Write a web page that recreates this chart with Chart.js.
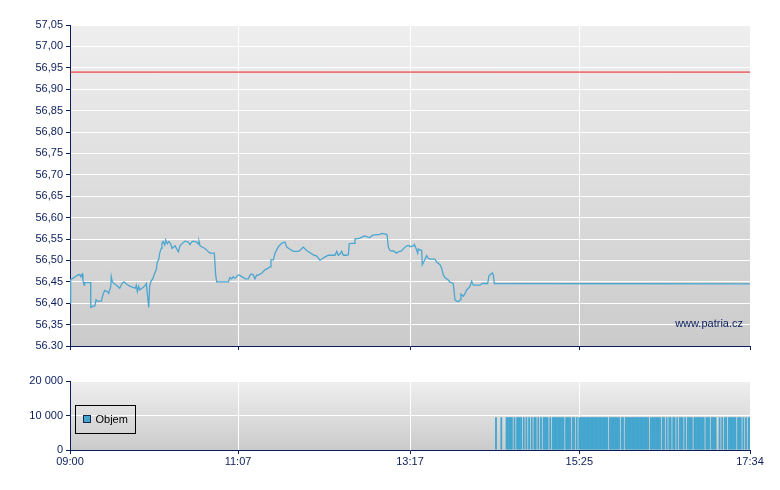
<!DOCTYPE html>
<html>
<head>
<meta charset="utf-8">
<script src="https://cdn.jsdelivr.net/npm/chart.js@4.4.1/dist/chart.umd.min.js"></script>
<style>
  html, body { margin: 0; padding: 0; background: #ffffff; }
  #wrap { position: relative; width: 780px; height: 490px; }
  #priceCanvas { position: absolute; left: 0; top: 0; }
  #volCanvas { position: absolute; left: 0; top: 360px; }
</style>
</head>
<body>
<div id="wrap">
  <canvas id="priceCanvas" width="780" height="360"></canvas>
  <canvas id="volCanvas" width="780" height="130"></canvas>
</div>
<script>
// ---------- DATA ----------
// time axis: minutes after 09:00
const timeTickValues = [0, 127, 257, 385, 514];
const timeTickLabels = ['09:00', '11:07', '13:17', '15:25', '17:34'];

const priceTickValues = [56.30, 56.35, 56.40, 56.45, 56.50, 56.55, 56.60, 56.65, 56.70, 56.75, 56.80, 56.85, 56.90, 56.95, 57.00, 57.05];
const priceTickLabels = ['56.30', '56,35', '56,40', '56,45', '56,50', '56,55', '56,60', '56,65', '56,70', '56,75', '56,80', '56,85', '56,90', '56,95', '57,00', '57,05'];

const volumeTickValues = [0, 10000, 20000];
const volumeTickLabels = ['0', '10 000', '20 000'];

const previousClose = 56.94;

const priceTimes = [
  0, 0.5, 6.0, 7.3, 8.1, 9.1, 9.8, 10.6, 11.1, 15.6, 15.7, 17.4, 18.7, 19.7, 20.6, 23.7, 24.9, 26.2, 28.2, 29.3,
  30.8, 31.2, 32.0, 33.3, 35.0, 37.6, 39.3, 40.8, 42.6, 45.1, 47.6, 49.4, 50.1, 50.9, 51.9, 52.7, 54.4, 56.5, 57.7, 59.5,
  60.2, 61.0, 62.7, 64.0, 65.2, 66.0, 67.0, 67.8, 69.0, 69.5, 70.3, 71.6, 72.3, 73.5, 74.8, 76.1, 77.1, 78.6, 79.4, 81.9,
  83.1, 84.4, 86.9, 89.4, 90.7, 92.0, 93.2, 95.8, 97.0, 97.5, 98.3, 99.5, 102.0, 103.3, 104.6, 105.8, 109.1, 110.1, 110.9, 119.7,
  120.9, 122.2, 123.4, 124.7, 126.0, 127.2, 128.5, 129.8, 131.0, 132.3, 134.8, 136.1, 137.3, 138.5, 139.8, 141.1, 142.3, 143.6, 144.9, 147.4,
  149.9, 151.2, 151.9, 153.7, 155.0, 156.2, 157.5, 160.0, 162.5, 163.8, 166.3, 168.8, 172.6, 173.8, 176.3, 178.9, 181.4, 183.9, 186.5, 188.4,
  189.0, 191.5, 195.2, 200.3, 201.6, 202.8, 204.1, 205.4, 206.6, 209.1, 210.4, 211.1, 212.9, 214.7, 215.4, 219.2, 221.7, 223.0, 225.5, 226.8,
  228.8, 234.3, 235.6, 239.4, 239.8, 240.6, 241.9, 243.1, 244.4, 246.9, 248.1, 250.7, 251.9, 254.5, 256.2, 257.0, 259.5, 260.3, 261.3, 262.0,
  262.8, 263.3, 264.6, 265.8, 266.3, 267.8, 269.6, 270.8, 272.1, 275.9, 277.2, 279.7, 280.9, 282.2, 283.4, 285.9, 287.2, 289.7, 291.0, 292.3,
  294.0, 294.8, 295.5, 297.3, 298.6, 299.8, 301.1, 302.3, 303.6, 304.8, 309.9, 311.6, 315.7, 316.7, 318.2, 319.2, 320.0, 320.7, 514
];
const priceValues = [
  56.400, 56.455, 56.466, 56.467, 56.462, 56.468, 56.454, 56.442, 56.448, 56.448, 56.390, 56.393, 56.393, 56.408, 56.405, 56.405, 56.420, 56.430, 56.427, 56.423,
  56.439, 56.462, 56.450, 56.446, 56.442, 56.435, 56.446, 56.450, 56.445, 56.440, 56.437, 56.435, 56.442, 56.427, 56.439, 56.431, 56.435, 56.440, 56.446, 56.390,
  56.439, 56.450, 56.458, 56.470, 56.478, 56.497, 56.501, 56.517, 56.528, 56.540, 56.544, 56.536, 56.548, 56.539, 56.544, 56.539, 56.528, 56.532, 56.534, 56.520,
  56.534, 56.538, 56.545, 56.543, 56.537, 56.543, 56.545, 56.543, 56.538, 56.545, 56.534, 56.532, 56.528, 56.524, 56.520, 56.517, 56.517, 56.466, 56.450, 56.450,
  56.460, 56.457, 56.462, 56.458, 56.462, 56.466, 56.465, 56.462, 56.460, 56.457, 56.457, 56.466, 56.468, 56.466, 56.457, 56.466, 56.465, 56.468, 56.470, 56.478,
  56.482, 56.485, 56.501, 56.501, 56.517, 56.524, 56.532, 56.540, 56.543, 56.531, 56.526, 56.521, 56.521, 56.523, 56.531, 56.523, 56.518, 56.513, 56.510, 56.503,
  56.500, 56.506, 56.512, 56.512, 56.521, 56.512, 56.515, 56.521, 56.512, 56.512, 56.513, 56.539, 56.540, 56.540, 56.550, 56.552, 56.556, 56.557, 56.554, 56.554,
  56.559, 56.561, 56.563, 56.561, 56.557, 56.531, 56.523, 56.522, 56.522, 56.517, 56.520, 56.522, 56.527, 56.534, 56.535, 56.532, 56.534, 56.537, 56.530, 56.524,
  56.517, 56.527, 56.524, 56.524, 56.490, 56.499, 56.511, 56.505, 56.503, 56.503, 56.496, 56.490, 56.482, 56.466, 56.460, 56.454, 56.449, 56.446, 56.408, 56.405,
  56.404, 56.408, 56.421, 56.416, 56.423, 56.431, 56.435, 56.439, 56.451, 56.442, 56.442, 56.446, 56.446, 56.464, 56.468, 56.471, 56.466, 56.446, 56.445
];

// volume per minute (minutes after 09:00)
const volumeMinutes = [
  322, 326, 330, 331, 332, 333, 334, 336, 338, 339, 340, 341, 343, 345, 347, 349, 351, 352, 354, 356,
  358, 359, 360, 361, 363, 365, 366, 367, 368, 369, 370, 371, 372, 373, 375, 376, 377, 378, 380, 381,
  383, 385, 386, 387, 388, 389, 390, 391, 392, 393, 394, 395, 396, 397, 398, 399, 400, 401, 402, 403,
  404, 405, 406, 408, 409, 410, 411, 412, 413, 414, 415, 417, 418, 420, 421, 422, 423, 424, 425, 426,
  427, 428, 429, 430, 431, 432, 433, 434, 435, 436, 437, 439, 440, 441, 442, 443, 444, 445, 446, 448,
  449, 451, 453, 454, 456, 457, 459, 461, 462, 463, 465, 467, 468, 469, 470, 472, 473, 474, 475, 476,
  477, 478, 479, 481, 482, 483, 485, 486, 487, 488, 491, 493, 495, 496, 498, 499, 500, 501, 502, 503,
  505, 506, 507, 509, 511, 513, 514
];
const volumeValues = [
  9500, 9500, 9500, 9500, 9500, 9500, 9500, 9500, 9500, 9500, 9500, 9500, 9500, 9500, 9500, 9500, 9500, 9500, 9500, 9500,
  9500, 9500, 9500, 9500, 9500, 9500, 9500, 9500, 9500, 9500, 9500, 9500, 9500, 9500, 9500, 9500, 9500, 9500, 9500, 9500,
  9500, 9500, 9500, 9500, 9500, 9500, 9500, 9500, 9500, 9500, 9500, 9500, 9500, 9500, 9500, 9500, 9500, 9500, 9500, 9500,
  9500, 9500, 9500, 9500, 9500, 9500, 9500, 9500, 9500, 9500, 9500, 9500, 9500, 9500, 9500, 9500, 9500, 9500, 9500, 9500,
  9500, 9500, 9500, 9500, 9500, 9500, 9500, 9500, 9500, 9500, 9500, 9500, 9500, 9500, 9500, 9500, 9500, 9500, 9500, 9500,
  9500, 9500, 9500, 9500, 9500, 9500, 9500, 9500, 9500, 9500, 9500, 9500, 9500, 9500, 9500, 9500, 9500, 9500, 9500, 9500,
  9500, 9500, 9500, 9500, 9500, 9500, 9500, 9500, 9500, 9500, 9500, 9500, 9500, 9500, 9500, 9500, 9500, 9500, 9500, 9500,
  9500, 9500, 9500, 9500, 9500, 9500, 9500
];

// ---------- STYLE ----------
const NAVY = '#0b1e5b';
const FONT = { family: "'Liberation Sans', Arial, sans-serif", size: 11 };

const priceData = priceTimes.map((t, i) => ({ x: t, y: priceValues[i] }));
const prevCloseData = [{ x: timeTickValues[0], y: previousClose }, { x: timeTickValues[timeTickValues.length - 1], y: previousClose }];
const volumeData = volumeMinutes.map((m, i) => ({ x: m, y: volumeValues[i] }));

const bgPlugin = {
  id: 'areaBg',
  beforeDraw(chart) {
    const { ctx, chartArea: a } = chart;
    const g = ctx.createLinearGradient(0, a.top, 0, a.bottom);
    g.addColorStop(0, '#efefef');
    g.addColorStop(1, '#cbcbcb');
    ctx.save();
    ctx.fillStyle = g;
    ctx.fillRect(a.left, a.top, a.right - a.left, a.bottom - a.top);
    ctx.restore();
  }
};

const watermarkPlugin = {
  id: 'watermark',
  afterDatasetsDraw(chart) {
    const { ctx, chartArea: a } = chart;
    ctx.save();
    ctx.font = "11px 'Liberation Sans', Arial, sans-serif";
    ctx.fillStyle = NAVY;
    ctx.textAlign = 'right';
    ctx.textBaseline = 'alphabetic';
    ctx.fillText('www.patria.cz', a.right - 7, a.bottom - 19);
    ctx.restore();
  }
};

const legendPlugin = {
  id: 'boxLegend',
  afterDraw(chart) {
    const { ctx, chartArea: a } = chart;
    const ds = chart.data.datasets[0];
    const x0 = a.left + 5.5, y0 = a.top + 24.5, w = 60, h = 28;
    ctx.save();
    ctx.strokeStyle = '#000000';
    ctx.lineWidth = 1;
    ctx.strokeRect(x0, y0, w, h);
    ctx.fillStyle = ds.backgroundColor;
    ctx.fillRect(x0 + 8, y0 + 10, 7, 7);
    ctx.strokeStyle = '#1a2a4a';
    ctx.strokeRect(x0 + 8, y0 + 10, 7, 7);
    ctx.fillStyle = '#000000';
    ctx.font = "11px 'Liberation Sans', Arial, sans-serif";
    ctx.textBaseline = 'middle';
    ctx.textAlign = 'left';
    ctx.fillText(ds.label, x0 + 20, y0 + 14.5);
    ctx.restore();
  }
};

function timeAxis(showLabels, height) {
  return {
    type: 'linear',
    offset: false,
    min: timeTickValues[0],
    max: timeTickValues[timeTickValues.length - 1],
    afterBuildTicks(scale) { scale.ticks = timeTickValues.map(v => ({ value: v })); },
    afterFit(scale) { scale.height = height; },
    grid: { offset: false, color: '#ffffff', lineWidth: 1, drawTicks: true, tickLength: 4, tickColor: NAVY },
    border: { display: true, color: NAVY, width: 1 },
    ticks: {
      display: showLabels,
      color: NAVY,
      font: FONT,
      padding: 1,
      maxRotation: 0,
      autoSkip: false,
      callback(v) { const i = timeTickValues.indexOf(v); return i >= 0 ? timeTickLabels[i] : ''; }
    }
  };
}

function valueAxis(vals, labels) {
  return {
    type: 'linear',
    min: vals[0],
    max: vals[vals.length - 1],
    afterBuildTicks(scale) { scale.ticks = vals.map(v => ({ value: v })); },
    afterFit(scale) { scale.width = 70; },
    grid: { color: '#ffffff', lineWidth: 1, drawTicks: true, tickLength: 4, tickColor: NAVY },
    border: { display: true, color: NAVY, width: 1 },
    ticks: {
      color: NAVY,
      font: FONT,
      padding: 3,
      autoSkip: false,
      callback(v) {
        let best = 0;
        vals.forEach((t, i) => { if (Math.abs(t - v) < Math.abs(vals[best] - v)) best = i; });
        return labels[best];
      }
    }
  };
}

new Chart(document.getElementById('priceCanvas'), {
  type: 'line',
  data: {
    datasets: [
      {
        label: 'Kurz',
        data: priceData,
        borderColor: '#4ba6d1',
        borderWidth: 1.3,
        pointRadius: 0,
        tension: 0,
        fill: false
      },
      {
        label: 'Předchozí závěr',
        data: prevCloseData,
        borderColor: '#ee1c1c',
        borderWidth: 1,
        pointRadius: 0,
        fill: false
      }
    ]
  },
  options: {
    responsive: false,
    animation: false,
    devicePixelRatio: 1,
    layout: { padding: { top: 25, right: 30, bottom: 0, left: 0 } },
    plugins: { legend: { display: false }, tooltip: { enabled: false } },
    scales: {
      x: timeAxis(false, 14),
      y: valueAxis(priceTickValues, priceTickLabels)
    }
  },
  plugins: [bgPlugin, watermarkPlugin]
});

new Chart(document.getElementById('volCanvas'), {
  type: 'bar',
  data: {
    datasets: [
      {
        label: 'Objem',
        data: volumeData,
        backgroundColor: '#44a6cf',
        borderWidth: 0,
        barPercentage: 1.4,
        categoryPercentage: 1
      }
    ]
  },
  options: {
    responsive: false,
    animation: false,
    devicePixelRatio: 1,
    layout: { padding: { top: 21, right: 30, bottom: 0, left: 0 } },
    plugins: { legend: { display: false }, tooltip: { enabled: false } },
    scales: {
      x: timeAxis(true, 40),
      y: valueAxis(volumeTickValues, volumeTickLabels)
    }
  },
  plugins: [bgPlugin, legendPlugin]
});
</script>
</body>
</html>
